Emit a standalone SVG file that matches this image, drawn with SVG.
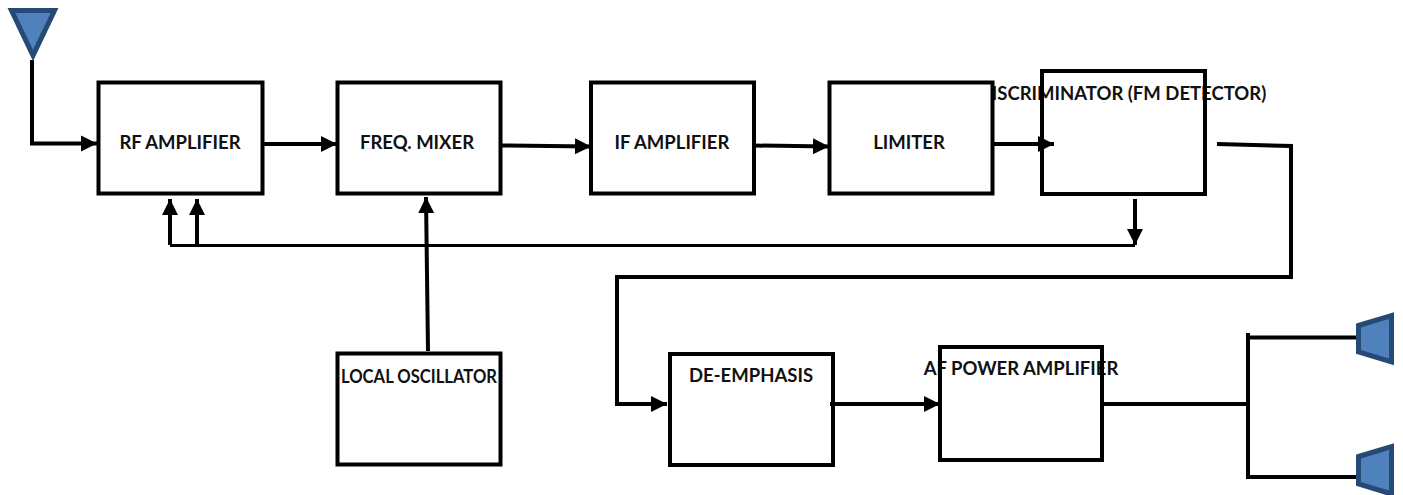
<svg xmlns="http://www.w3.org/2000/svg" width="1403" height="495" viewBox="0 0 1403 495">
<style>
.box{fill:none;stroke:#000;stroke-width:4}
.white{fill:#fff}
.lbl{font-family:Lato,"Liberation Sans",sans-serif;font-weight:700;font-size:18.500px;fill:#111;text-anchor:middle}
.w{fill:none;stroke:#000;stroke-width:4}
.thin{fill:none;stroke:#000;stroke-width:3.200}
.sym{fill:#4f81bd;stroke:#254a75;stroke-width:5}
</style>
<defs>
<marker id="ah" markerUnits="userSpaceOnUse" markerWidth="18" markerHeight="18" refX="16" refY="9" orient="auto">
<path d="M0 1L16 9L0 17z" fill="#000"/>
</marker>
</defs>
<rect width="1403" height="495" fill="#fff"/>
<g id="connectors">
<path class="w" d="M32 60V143.500H97" marker-end="url(#ah)"/>
<path class="w" d="M262 144H337" marker-end="url(#ah)"/>
<path class="w" d="M500 145.500L591 146.500" marker-end="url(#ah)"/>
<path class="w" d="M753 145.500L829 146.500" marker-end="url(#ah)"/>
<path class="w" d="M992 144H1054" marker-end="url(#ah)"/>
<path class="w" d="M428 351L426 197" marker-end="url(#ah)"/>
<path class="thin" d="M170 245.500H1135"/>
<path class="w" d="M1135 199V245" marker-end="url(#ah)"/>
<path class="w" d="M170 245V199" marker-end="url(#ah)"/>
<path class="w" d="M197 245V199" marker-end="url(#ah)"/>
<path class="w" d="M1217 144L1291 146V277H617V404H667" marker-end="url(#ah)"/>
<path class="w" d="M830 404H940" marker-end="url(#ah)"/>
<path class="w" d="M1102 404H1248"/>
<path class="w" d="M1248 333V477H1358M1248 337.500H1358"/>
</g>
<g id="antenna"><path class="sym" d="M11.500 10.500H54.500L33 55.500z"/></g>
<g id="speaker-1"><path class="sym" d="M1358.500 325.500L1391.500 315.500V362L1358.500 352z"/></g>
<g id="speaker-2"><path class="sym" d="M1358.500 456.500L1391.500 446.500V494L1358.500 484z"/></g>
<g id="rf-amplifier"><rect class="box" x="98.500" y="82.500" width="164" height="111"/><text class="lbl" x="180" y="148.500">RF AMPLIFIER</text></g>
<g id="freq-mixer"><rect class="box" x="337.500" y="82.500" width="163" height="111"/><text class="lbl" x="417" y="148.500">FREQ. MIXER</text></g>
<g id="if-amplifier"><rect class="box" x="591" y="82.500" width="163" height="111"/><text class="lbl" x="672" y="148.500">IF AMPLIFIER</text></g>
<g id="discriminator"><text class="lbl" x="1122" y="100">DISCRIMINATOR (FM DETECTOR)</text><rect class="box" x="1042" y="71" width="163" height="123"/></g>
<g id="limiter"><rect class="box white" x="829.500" y="82.500" width="163" height="111"/><text class="lbl" x="909" y="148.500">LIMITER</text></g>
<g id="local-oscillator"><text class="lbl" x="419" y="383" textLength="156" lengthAdjust="spacingAndGlyphs">LOCAL OSCILLATOR</text><rect class="box" x="337.500" y="353.500" width="163" height="111"/></g>
<g id="de-emphasis"><rect class="box" x="670" y="354" width="163" height="111"/><text class="lbl" x="751" y="382">DE-EMPHASIS</text></g>
<g id="af-power-amplifier"><text class="lbl" x="1021" y="375">AF POWER AMPLIFIER</text><rect class="box" x="940" y="347" width="162" height="113"/></g>
</svg>
